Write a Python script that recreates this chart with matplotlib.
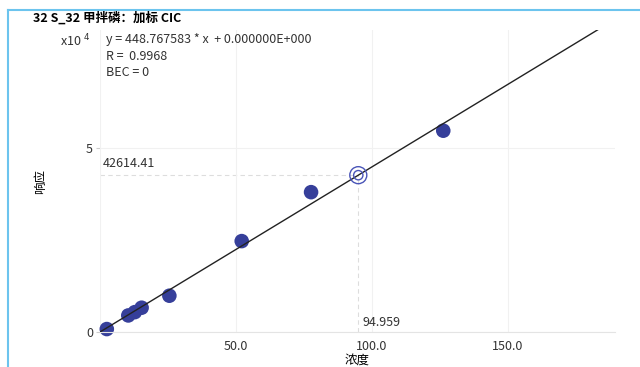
import matplotlib
matplotlib.use("Agg")
import matplotlib.pyplot as plt
from matplotlib.lines import Line2D
import numpy as np

plt.rcParams['font.family'] = ['Noto Sans CJK SC', 'DejaVu Sans']

# calibration points
conc = [2.5, 10.4, 12.8, 15.3, 25.5, 52.1, 77.6, 126.2]
resp = [800, 4500, 5400, 6600, 9860, 24700, 38000, 54700]

slope = 448.767583
intercept = 0.0
fit_end = 183.0

sample_x = 94.959
sample_y = 42614.41

title = "32 S_32 甲拌磷：加标 CIC"
eq_lines = ["y = 448.767583 * x  + 0.000000E+000", "R =  0.9968", "BEC = 0"]

fig = plt.figure(figsize=(6.4, 3.67), dpi=100)
ax = fig.add_axes([100/640, 1-332/367, 515/640, 302/367])

grid_c = '#f1f1f1'
ax.set_xlim(0, 515/2.72)
ax.set_ylim(0, 302/3.68*1000)
ax.set_xticks([50, 100, 150])
ax.set_xticklabels(['50.0', '100.0', '150.0'])
ax.set_yticks([0, 50000])
ax.set_yticklabels(['0', '5'])
ax.grid(True, color=grid_c, lw=0.8)
ax.axvline(0, color=grid_c, lw=0.8)
for s in ['top', 'right', 'left']:
    ax.spines[s].set_visible(False)
ax.spines['bottom'].set_color('#e4e4e4')
ax.tick_params(axis='x', length=0, labelsize=9, colors='#333333', pad=6)
ax.tick_params(axis='y', length=3, color='#cccccc', labelsize=9, labelcolor='#333333', pad=2)

fx = np.array([0, fit_end])
ax.plot(fx, slope*fx + intercept, color='#222222', lw=1.0, zorder=3)

ax.scatter(conc, resp, s=110, color='#363f9a', edgecolors='none', zorder=2, clip_on=False)

# sample lookup
ax.plot([0, sample_x], [sample_y, sample_y], color='#dddddd', lw=0.8, ls=(0, (4, 3)), zorder=1)
ax.plot([sample_x, sample_x], [0, sample_y], color='#dddddd', lw=0.8, ls=(0, (4, 3)), zorder=1)
ax.scatter([sample_x], [sample_y], s=150, facecolors='none', edgecolors='#4a55b8', lw=1.0, zorder=4)
ax.scatter([sample_x], [sample_y], s=45, facecolors='none', edgecolors='#4a55b8', lw=1.0, zorder=4)
ax.text(1, sample_y + 1400, f"{sample_y:.2f}", fontsize=9, color='#333333', va='bottom', ha='left')
ax.text(sample_x + 1.5, 700, f"{sample_x:.3f}", fontsize=9, color='#333333', va='bottom', ha='left')

ax.set_xlabel('浓度', fontsize=9, labelpad=0)
ax.set_ylabel('响应', fontsize=9, labelpad=28)

fig.text(33/640, 1-18/367, title, fontsize=9, fontweight='bold', va='center', ha='left')
fig.text(60/640, 1-41/367, r'x10 $^{4}$', fontsize=9, color='#333333', va='center', ha='left')
for i, t in enumerate(eq_lines):
    fig.text(106/640, 1-(40+16*i)/367, t, fontsize=9, color='#333333', va='center', ha='left')

# light blue frame on top and left
blue = '#6cc4ee'
fig.add_artist(Line2D([8/640, 1], [1-9.5/367, 1-9.5/367], color=blue, lw=1.5))
fig.add_artist(Line2D([8/640, 8/640], [0, 1-9.5/367], color=blue, lw=1.5))

fig.savefig('out.png', dpi=100)
